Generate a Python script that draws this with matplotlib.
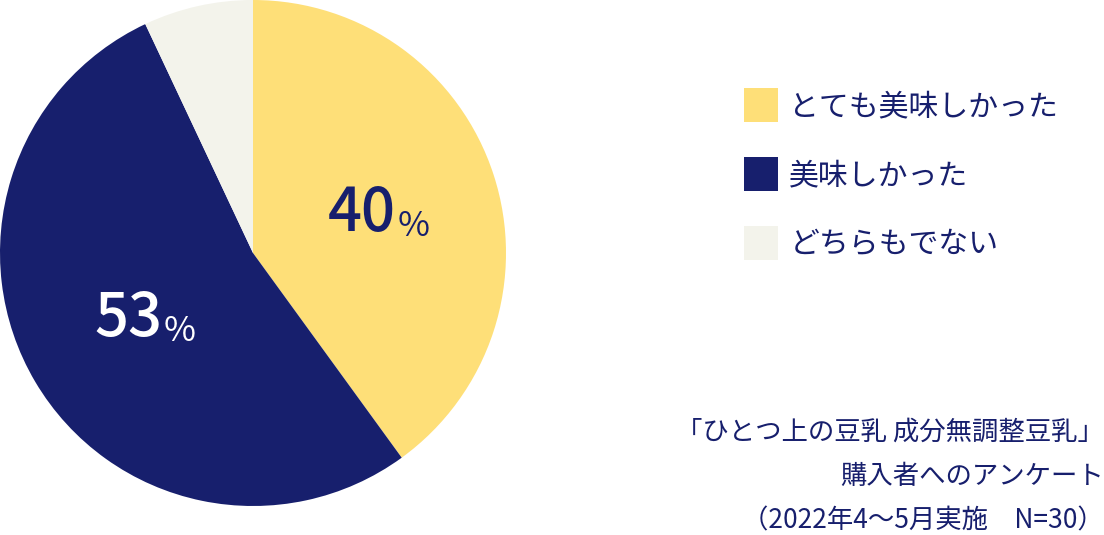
import numpy as np
import matplotlib
matplotlib.use("Agg")
import matplotlib.pyplot as plt

plt.rcParams['font.family'] = ['Noto Sans CJK JP', 'DejaVu Sans']

# data
labels = ["とても美味しかった", "美味しかった", "どちらもでない"]
values = [40, 53, 7]
pct_text = ["40", "53", None]
colors = ["#FEDF78", "#171F6D", "#F3F3EB"]
pct_colors = ["#171F6D", "#FFFFFF", None]
note = "「ひとつ上の豆乳 成分無調整豆乳」\n購入者へのアンケート\n（2022年4〜5月実施　N=30）"

navy = "#171F6D"
W, H = 1104, 535

fig = plt.figure(figsize=(W / 100, H / 100), dpi=100)
ax = fig.add_axes([0, 29 / H, 506 / W, 506 / H])

wedges, _ = ax.pie(values, colors=colors, startangle=90, counterclock=False,
                   radius=1.0, wedgeprops=dict(linewidth=0))
ax.set_xlim(-1, 1)
ax.set_ylim(-1, 1)
ax.set_aspect('equal')
ax.axis('off')

# percent labels at mid-angle of each wedge
for w, txt, c in zip(wedges, pct_text, pct_colors):
    if txt is None:
        continue
    mid = np.deg2rad((w.theta1 + w.theta2) / 2)
    x, y = 0.51 * np.cos(mid), 0.51 * np.sin(mid)
    num = ax.annotate(txt, xy=(x, y), xytext=(-10, 0), textcoords='offset points',
                      ha='center', va='center', fontsize=43, color=c, fontweight='medium')
    ax.annotate("%", xy=(1, 0), xycoords=num, xytext=(1, 0), textcoords='offset points',
                ha='left', va='bottom', fontsize=25, color=c)

# legend
leg = fig.legend(wedges, labels, loc='upper left', bbox_to_anchor=(744 / W, 1 - 88 / H),
                 frameon=False, fontsize=21.5, handlelength=1.14, handleheight=1.37,
                 labelspacing=1.18, handletextpad=0.38, borderpad=0, borderaxespad=0)
for t in leg.get_texts():
    t.set_color(navy)

fig.text(1104 / W, 0.5 / H, note, ha='right', va='bottom', multialignment='right',
         fontsize=19, color=navy, linespacing=1.83)

fig.savefig("out.png", dpi=100)
